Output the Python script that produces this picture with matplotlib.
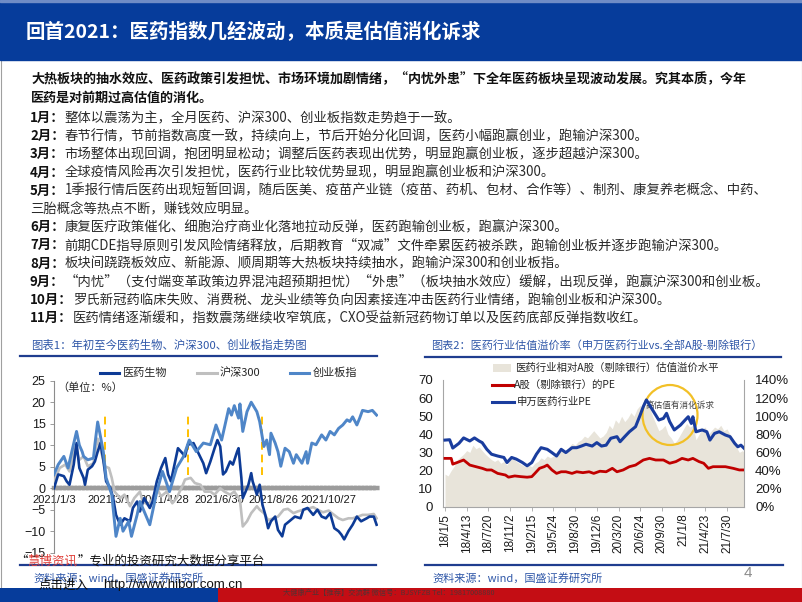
import matplotlib
matplotlib.use('Agg')
import matplotlib.pyplot as plt
from matplotlib.patches import Rectangle, Ellipse
from matplotlib.lines import Line2D
from matplotlib.ticker import FuncFormatter

plt.rcParams['font.family'] = ['Noto Sans CJK SC', 'DejaVu Sans']

# ---------------- 图表1 数据 (交易日序号, 涨跌幅%) ----------------
yy_day = [0, 3, 7, 9, 11, 14, 16, 18, 21, 22, 24, 27, 29, 31, 33, 35, 37, 40, 42, 44, 47, 50,
          54, 56, 59, 61, 64, 68, 70, 73, 76, 79, 81, 83, 86, 88, 91, 93, 95, 99, 102, 106, 108,
          111, 114, 116, 118, 120, 122, 125, 127, 130, 131, 133, 134, 136, 138, 140, 141, 144,
          146, 148, 150, 152, 154, 157, 159, 162, 164, 167, 171, 175, 177, 180, 184, 187, 190,
          193, 196, 199, 202, 204, 206, 209, 212, 215, 218, 222, 224, 227, 229]
yy_val = [0, 3.2, 2.8, 1.6, 0.8, 5.5, 10.5, 4.7, 2.4, 0.8, 4.3, 5.1, 6.2, 8.5, 10.5, 6.6, 1.6, 0,
          -2.3, -6.2, -8.5, -7.0, -7.7, -4.6, -3.1, -5.4, -2.3, -4.6, -3.1, 1.6, 4.7, 7.0, 3.2,
          1.6, 6.2, 9.3, 8.2, 7.4, 10.1, 10.5, 8.5, 5.8, 3.5, 6.2, 9.3, 11.2, 9.7, 3.2, 3.9, 6.2,
          5.5, 8.5, 9.3, 2.4, -2.3, -0.8, 0.8, 3.5, 1.6, -1.5, 0.8, -3.9, -6.2, -9.3, -7.7, -6.6,
          -9.7, -11.2, -8.5, -7.7, -6.6, -7.0, -5.0, -4.6, -6.2, -5.0, -6.6, -7.0, -5.8, -9.3,
          -10.0, -10.8, -11.9, -10.0, -8.5, -6.6, -7.7, -7.0, -6.6, -6.6, -8.5]

cyb_day = [0, 3, 7, 10, 13, 16, 18, 20, 21, 24, 28, 29, 31, 33, 35, 37, 41, 44, 47, 49, 53, 55,
           59, 61, 64, 68, 73, 77, 82, 87, 92, 96, 101, 106, 111, 115, 119, 124, 126, 128, 131,
           132, 134, 137, 140, 144, 146, 149, 151, 153, 154, 157, 159, 161, 164, 167, 170, 172,
           176, 179, 180, 183, 186, 190, 193, 196, 199, 202, 205, 208, 210, 212, 215, 217, 219,
           223, 226, 229]
cyb_val = [3.2, 5.5, 7.4, 4.7, 9.0, 13.2, 10.0, 8.5, 7.4, 6.6, 7.0, 10.1, 15.4, 12.0, 8.5, 2.4,
           -1.5, -11.2, -7.0, -10.0, -7.7, -11.2, -6.2, -3.1, -5.4, -8.5, -0.8, 3.9, -0.8, 4.7,
           7.4, 11.2, 8.5, 10.5, 10.1, 14.7, 11.2, 18.5, 17.0, 19.2, 16.3, 19.6, 13.2, 17.8, 20.0,
           17.8, 15.5, 9.7, 11.2, 7.8, 12.8, 10.5, 8.5, 5.1, 9.3, 8.5, 5.8, 7.8, 5.8, 8.5, 5.8,
           10.5, 10.1, 12.4, 11.2, 13.2, 12.4, 13.9, 14.7, 15.9, 15.5, 16.6, 14.7, 16.3, 18.1,
           17.8, 18.1, 17.0]

hs_day = [0, 4, 8, 11, 15, 18, 21, 24, 28, 29, 31, 33, 34, 36, 39, 41, 43, 47, 50, 54, 57, 61,
          63, 67, 70, 73, 76, 80, 84, 87, 91, 93, 97, 100, 104, 107, 111, 114, 118, 121, 125,
          128, 132, 134, 137, 140, 144, 146, 149, 152, 156, 159, 163, 166, 170, 173, 177, 180,
          184, 187, 191, 195, 198, 202, 205, 209, 212, 216, 219, 223, 227, 229]
hs_val = [1.6, 4.7, 5.5, 3.9, 9.7, 6.6, 7.4, 5.1, 5.8, 8.0, 11.5, 9.0, 7.8, 5.1, 4.7, 2.4, -0.8,
          -2.3, -1.5, -4.2, -2.3, -0.8, -3.1, -3.9, -2.3, 0, -1.9, -0.8, -3.5, -2.3, 0.4, 2.0,
          2.4, 1.2, 0.8, -0.8, -0.8, -1.5, 0, -0.8, -1.5, -0.8, -2.7, -8.9, -7.7, -5.8, -4.2,
          -5.0, -5.8, -7.4, -7.0, -6.6, -5.0, -4.8, -5.8, -5.4, -5.0, -4.8, -4.4, -5.0, -5.6,
          -5.2, -6.0, -7.0, -7.4, -7.0, -7.0, -6.6, -6.2, -6.2, -6.0, -7.0]

left_ticks = [0, 39, 78, 117, 156, 195]
left_labels = ['2021/1/3', '2021/3/1', '2021/4/28', '2021/6/30', '2021/8/26', '2021/10/27']
mark_days = [36, 95, 148]

# ---------------- 图表2 数据 (周序号) ----------------
sw_wk = [0, 3, 5, 9, 12, 16, 19, 22, 24, 27, 30, 34, 38, 40, 43, 46, 50, 53, 56, 59, 62, 66,
         69, 72, 75, 78, 82, 85, 88, 91, 95, 98, 101, 104, 107, 111, 113, 116, 119, 123, 126,
         128, 130, 132, 134, 138, 141, 143, 145, 148, 152, 155, 157, 159, 160, 162, 166, 169,
         171, 174, 177, 181, 184, 187, 189, 191, 193]
sw_pe = [36.8, 37.0, 32.4, 35.0, 38.0, 36.3, 38.0, 36.3, 35.4, 31.7, 29.0, 28.0, 27.2, 24.4,
         27.2, 26.3, 24.4, 22.6, 24.4, 29.0, 32.6, 31.7, 29.9, 28.0, 31.7, 29.9, 32.6, 32.6,
         33.5, 34.5, 33.5, 35.4, 33.5, 34.0, 37.8, 38.7, 35.9, 38.7, 41.4, 44.2, 50.7, 55.3,
         59.0, 56.2, 53.4, 47.9, 48.8, 51.6, 47.0, 42.4, 45.1, 47.9, 49.7, 46.0, 49.7, 41.4,
         42.4, 41.4, 36.8, 40.5, 41.4, 39.6, 38.7, 35.0, 33.1, 34.0, 32.3]

a_wk = [0, 4, 5, 9, 12, 16, 20, 24, 27, 30, 34, 39, 41, 45, 49, 53, 56, 58, 61, 64, 66, 69, 72,
        75, 78, 82, 85, 89, 93, 96, 100, 104, 108, 111, 115, 119, 123, 128, 132, 136, 141, 145,
        149, 153, 157, 160, 164, 167, 170, 173, 177, 181, 186, 190, 193]
a_pe = [26.7, 26.7, 23.5, 24.8, 25.8, 23.0, 22.1, 21.2, 20.3, 20.3, 18.4, 17.5, 16.3, 17.0,
        16.6, 16.3, 16.6, 18.4, 21.2, 22.1, 23.0, 20.3, 18.4, 19.3, 19.3, 18.4, 19.3, 18.8,
        19.3, 18.4, 19.6, 19.3, 21.2, 19.3, 20.3, 22.1, 23.0, 25.8, 26.7, 25.8, 25.8, 24.0,
        24.9, 26.7, 25.8, 26.7, 24.9, 24.0, 21.2, 22.1, 22.1, 22.1, 21.2, 20.3, 20.3]

prem_wk = list(range(0, 195, 2))
prem_pct = [36, 34, 40, 45, 52, 55, 58, 62, 60, 68, 64, 66, 62, 58, 55, 52, 50, 52, 48, 50,
            46, 52, 54, 50, 48, 46, 44, 46, 44, 48, 50, 54, 52, 56, 54, 56, 55, 60, 64, 58,
            66, 70, 68, 72, 74, 78, 76, 80, 84, 80, 76, 78, 82, 90, 86, 96, 92, 100, 94, 98,
            104, 100, 108, 112, 106, 114, 110, 100, 92, 84, 86, 90, 80, 76, 70, 74, 80, 86,
            92, 88, 90, 74, 80, 86, 88, 80, 84, 88, 86, 90, 84, 86, 80, 74, 66, 60, 62, 58]

right_ticks = list(range(0, 183, 14))
right_labels = ['18/1/5', '18/4/13', '18/7/20', '18/11/2', '19/2/15', '19/5/24', '19/8/30',
                '19/12/6', '20/3/20', '20/6/24', '20/9/30', '21/1/8', '21/4/23', '21/7/30']

# ---------------- 文本 ----------------
title = '回首2021：医药指数几经波动，本质是估值消化诉求'
intro = ['大热板块的抽水效应、医药政策引发担忧、市场环境加剧情绪，“内忧外患”下全年医药板块呈现波动发展。究其本质，今年',
         '医药是对前期过高估值的消化。']
month_tag = ['1月：', '2月：', '3月：', '4月：', '5月：', '', '6月：', '7月：', '8月：', '9月：', '10月：', '11月：']
month_txt = ['整体以震荡为主，全月医药、沪深300、创业板指数走势趋于一致。',
             '春节行情，节前指数高度一致，持续向上，节后开始分化回调，医药小幅跑赢创业，跑输沪深300。',
             '市场整体出现回调，抱团明显松动；调整后医药表现出优势，明显跑赢创业板，逐步超越沪深300。',
             '全球疫情风险再次引发担忧，医药行业比较优势显现，明显跑赢创业板和沪深300。',
             '1季报行情后医药出现短暂回调，随后医美、疫苗产业链（疫苗、药机、包材、合作等）、制剂、康复养老概念、中药、',
             '三胎概念等热点不断，赚钱效应明显。',
             '康复医疗政策催化、细胞治疗商业化落地拉动反弹，医药跑输创业板，跑赢沪深300。',
             '前期CDE指导原则引发风险情绪释放，后期教育“双减”文件牵累医药被杀跌，跑输创业板并逐步跑输沪深300。',
             '板块间跷跷板效应、新能源、顺周期等大热板块持续抽水，跑输沪深300和创业板指。',
             '“内忧”（支付端变革政策边界混沌超预期担忧）“外患”（板块抽水效应）缓解，出现反弹，跑赢沪深300和创业板。',
             '罗氏新冠药临床失败、消费税、龙头业绩等负向因素接连冲击医药行业情绪，跑输创业板和沪深300。',
             '医药情绪逐渐缓和，指数震荡继续收窄筑底，CXO受益新冠药物订单以及医药底部反弹指数收红。']

W, H = 802, 602
BLUE_BAR = '#063c9b'
NAVY = '#1f3d8f'
SRC = '#2f57a8'


def fx(x):
    return x / W


def fy(y):
    return 1 - y / H


fig = plt.figure(figsize=(8.02, 6.02), dpi=100)
fig.patch.set_facecolor('white')
rend = fig.canvas.get_renderer()


def prect(x0, y0, x1, y1, **kw):
    fig.add_artist(Rectangle((fx(x0), fy(y1)), (x1 - x0) / W, (y1 - y0) / H,
                             transform=fig.transFigure, **kw))


def pline(x0, y0, x1, y1, **kw):
    fig.add_artist(Line2D([fx(x0), fx(x1)], [fy(y0), fy(y1)], transform=fig.transFigure, **kw))


def chain(x, y, parts, size, **kw):
    # 依次排列几段不同颜色/粗细的文字
    for s, c, w in parts:
        t = fig.text(fx(x), fy(y), s, color=c, fontweight=w, fontsize=size,
                     va='center', ha='left', **kw)
        x += t.get_window_extent(rend).width


# 页面框架 + 标题栏
prect(0.5, 0.5, 801.5, 601.5, fill=False, ec='#a0a0a0', lw=0.8, zorder=0)
prect(0, 0, 802, 60, color=BLUE_BAR, zorder=1)
prect(0, 0, 802, 2, color='#6f8cc6', zorder=1)
fig.text(fx(26), fy(32), title, color='white', fontsize=14, fontweight='bold', va='center')

# 正文
for i, s in enumerate(intro):
    fig.text(fx(31), fy(79 + i * 19), s, fontsize=9.4, fontweight='bold', color='#111111', va='center')
for i, (tag, s) in enumerate(zip(month_tag, month_txt)):
    y = 118 + i * 18.2
    chain(30, y, [(tag, '#111111', 'bold'), (s, '#2a2a2a', 'normal')], 9.6)

# ---------------- 图表1 ----------------
fig.text(fx(31), fy(345), '图表1：年初至今医药生物、沪深300、创业板指走势图', color=SRC, fontsize=8.2, va='center')
pline(20, 356, 377, 356, color=NAVY, lw=1.6)

ax = fig.add_axes([fx(54), fy(552.7), 324 / W, 172 / H])
ax.plot(hs_day, hs_val, color='#bfbfbf', lw=1.9, zorder=3)
ax.plot(yy_day, yy_val, color='#0d3b96', lw=1.9, zorder=4)
ax.plot(cyb_day, cyb_val, color='#4f86c8', lw=2.1, zorder=5)
for d in mark_days:
    ax.plot([d, d], [3, 17], color='#ffc000', lw=1.4, ls=(0, (4, 2.5)), zorder=2)
for s in ['top', 'right']:
    ax.spines[s].set_visible(False)
ax.spines['left'].set_color('#8c8c8c')
ax.spines['left'].set_linewidth(0.8)
ax.spines['bottom'].set_position(('data', 0))
ax.spines['bottom'].set_color('#9c9c9c')
ax.spines['bottom'].set_linewidth(3.2)
ax.spines['bottom'].set_linestyle((0, (0.5, 0.35)))
ax.spines['bottom'].set_zorder(1)
ax.set_xlim(0, 230)
ax.set_ylim(-15, 25)
ax.set_yticks(range(-15, 26, 5))
ax.set_xticks(left_ticks)
ax.set_xticklabels(left_labels)
ax.tick_params(axis='x', length=0, pad=5, labelcolor='#1a1a1a', labelsize=8,
               labelfontfamily='Liberation Sans')
ax.tick_params(axis='y', length=3, width=0.6, color='#8c8c8c', labelcolor='#1a1a1a', pad=3,
               labelsize=9, labelfontfamily='Liberation Sans')
ax.patch.set_visible(False)
ax.text(2, 23.5, '（单位：%）', fontsize=8, color='#262626', va='center')

# 图例1
for x0, x1, c, tx, lab in [(100, 119, '#0d3b96', 123, '医药生物'), (197, 217, '#bfbfbf', 220, '沪深300'),
                           (290, 309, '#4f86c8', 313, '创业板指')]:
    pline(x0, 372.5, x1, 372.5, color=c, lw=2.2)
    fig.text(fx(tx), fy(372.5), lab, fontsize=8, color='#262626', va='center')

# ---------------- 图表2 ----------------
fig.text(fx(431), fy(345), '图表2：医药行业估值溢价率（申万医药行业vs.全部A股-剔除银行）', color=SRC, fontsize=8,
         va='center')
pline(425, 357, 781, 357, color=NAVY, lw=1.6)

ax2 = fig.add_axes([fx(443), fy(506.7), 301 / W, 126.7 / H])
ax2r = ax2.twinx()
ax2r.fill_between(prem_wk, 0, [p / 100 for p in prem_pct], color='#e8e4da', lw=0)
ax2r.set_ylim(0, 1.4)
ax2r.set_yticks([i * 0.2 for i in range(8)])
ax2r.yaxis.set_major_formatter(FuncFormatter(lambda v, _: f'{v:.0%}'))

ax2.set_zorder(ax2r.get_zorder() + 1)
ax2.patch.set_visible(False)
ax2.plot(a_wk, a_pe, color='#c00000', lw=2.0, zorder=3)
ax2.plot(sw_wk, sw_pe, color='#1a3d9e', lw=2.2, zorder=4)
ax2.text(129.5, 55.8, '高估值有消化诉求', fontsize=6.2, color='#404040', va='center', zorder=2)
ax2.set_xlim(-1.3, 193)
ax2.set_ylim(0, 70)
ax2.set_yticks(range(0, 71, 10))
ax2.set_xticks(right_ticks)
ax2.set_xticklabels(right_labels, rotation=90)
for a in (ax2, ax2r):
    for s in a.spines.values():
        s.set_color('#a6a6a6')
        s.set_linewidth(0.8)
    a.spines['top'].set_visible(False)
ax2.spines['right'].set_visible(False)
ax2r.spines['left'].set_visible(False)
ax2r.spines['bottom'].set_visible(False)
ax2.tick_params(axis='x', length=3, width=0.6, color='#a6a6a6', labelcolor='#1a1a1a', pad=2,
                labelsize=8.5, labelfontfamily='Liberation Sans')
ax2.tick_params(axis='y', length=0, pad=7, labelcolor='#1a1a1a', labelsize=9.5,
                labelfontfamily='Liberation Sans')
ax2r.tick_params(axis='y', length=0, pad=8, labelcolor='#1a1a1a', labelsize=9.5,
                 labelfontfamily='Liberation Sans')

# 图例2
prect(493, 364, 511, 372, color='#e8e4da', lw=0)
fig.text(fx(515), fy(368), '医药行业相对A股（剔除银行）估值溢价水平', fontsize=7.5, color='#262626', va='center')
pline(492, 385, 513, 385, color='#c00000', lw=2.2)
fig.text(fx(514), fy(385), 'A股（剔除银行）的PE', fontsize=7.5, color='#262626', va='center')
pline(492, 402, 514, 402, color='#1a3d9e', lw=2.2)
fig.text(fx(517), fy(402), '申万医药行业PE', fontsize=7.5, color='#262626', va='center')

fig.add_artist(Ellipse((fx(670), fy(415)), 55 / W, 60 / H, transform=fig.transFigure,
                       fill=False, ec='#f2c027', lw=1.6))

# ---------------- 资料来源 / 页脚 ----------------
pline(20, 565, 376, 565, color=NAVY, lw=1.6)
pline(425, 565, 783, 565, color=NAVY, lw=1.6)
fig.text(fx(33), fy(578), '资料来源：wind，国盛证券研究所', color=SRC, fontsize=8, va='center')
fig.text(fx(432), fy(578), '资料来源：wind，国盛证券研究所', color=SRC, fontsize=8, va='center')
fig.text(fx(748), fy(573), '4', color='#8c8c8c', fontsize=11, va='center', ha='center', family='Liberation Sans')

prect(0, 588, 218, 602, color=BLUE_BAR, lw=0)
prect(218, 588, 802, 602, color='#c40d14', lw=0)
fig.text(fx(283), fy(593), '大健康产业【推荐】交流群 微信号：BJSYFZB Tel：19817008880', fontsize=5.2,
         color='#3a3a3a', va='center', alpha=0.8)

# 水印
chain(15, 561, [('“', '#111111', 'normal'), ('慧博资讯', '#e0403a', 'normal'),
                ('”专业的投资研究大数据分享平台', '#111111', 'normal')], 9)
fig.text(fx(38), fy(585), '点击进入', fontsize=9, color='#111111', va='center')
fig.text(fx(103), fy(585), 'http://www.hibor.com.cn', fontsize=9.5, color='#111111', va='center',
         family='Liberation Sans')

fig.savefig('out.png', dpi=100)
